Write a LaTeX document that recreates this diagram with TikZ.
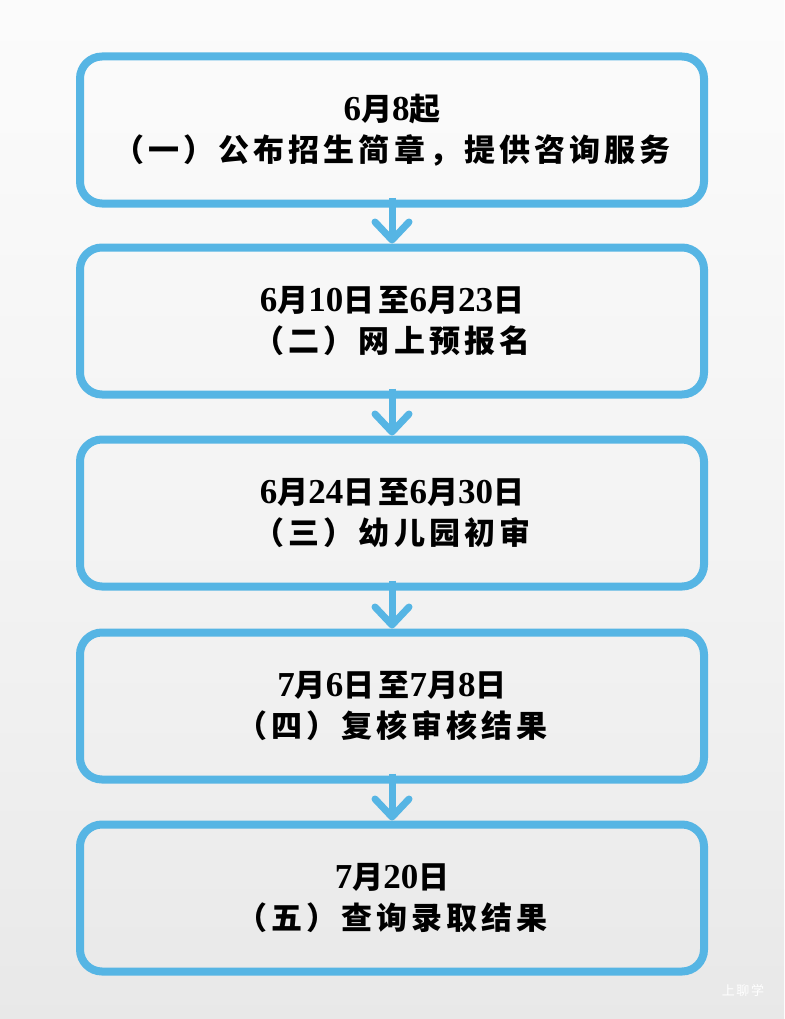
\documentclass[tikz,border=0pt]{standalone}
\usepackage{fontspec}
\setmainfont{Liberation Serif}
\newfontfamily\cjk[LetterSpace=13]{Noto Sans CJK SC}
\usetikzlibrary{positioning, arrows.meta}
\definecolor{flowblue}{RGB}{86,181,228}
\definecolor{bghigh}{RGB}{250,250,250}
\definecolor{bgmid}{RGB}{240,240,240}
\definecolor{bgbottom}{RGB}{219,219,219}
\pgfdeclareverticalshading{backdrop}{100bp}{color(0bp)=(bgbottom); color(40bp)=(bgmid); color(70bp)=(bghigh); color(100bp)=(white)}
\newcommand\dg[1]{{\rmfamily\bfseries\fontsize{35}{40}\selectfont #1}}

\begin{document}
\begin{tikzpicture}[x=1pt, y=1pt,
  stage/.style={draw=flowblue, line width=8pt, rounded corners=22pt, minimum width=624pt, minimum height=147pt, align=center, font=\cjk\bfseries\fontsize{31}{41}\selectfont},
  flow/.style={draw=flowblue, line width=7pt, shorten <=-10pt, -{Straight Barb[length=18pt, width=34pt, round]}}]
\shade[shading=backdrop] (0,0) rectangle (784,-1019);

\node[stage] at (392,-130) (stage1) {\dg{6}月\dg{8}起\\（一）公布招生简章，提供咨询服务};
\node[stage, below = 36pt of stage1] (stage2) {\dg{6}月\dg{10}日至\dg{6}月\dg{23}日\\（二）网上预报名};
\node[stage, below = 37pt of stage2] (stage3) {\dg{6}月\dg{24}日至\dg{6}月\dg{30}日\\（三）幼儿园初审};
\node[stage, below = 38pt of stage3] (stage4) {\dg{7}月\dg{6}日至\dg{7}月\dg{8}日\\（四）复核审核结果};
\node[stage, below = 37pt of stage4] (stage5) {\dg{7}月\dg{20}日\\（五）查询录取结果};

\draw[flow] (stage1.south) -- (stage2.north);
\draw[flow] (stage2.south) -- (stage3.north);
\draw[flow] (stage3.south) -- (stage4.north);
\draw[flow] (stage4.south) -- (stage5.north);

\node[text=white, font=\cjk\fontsize{13}{13}\selectfont] at (743,-991) (mark) {上聊学};
\end{tikzpicture}
\end{document}
